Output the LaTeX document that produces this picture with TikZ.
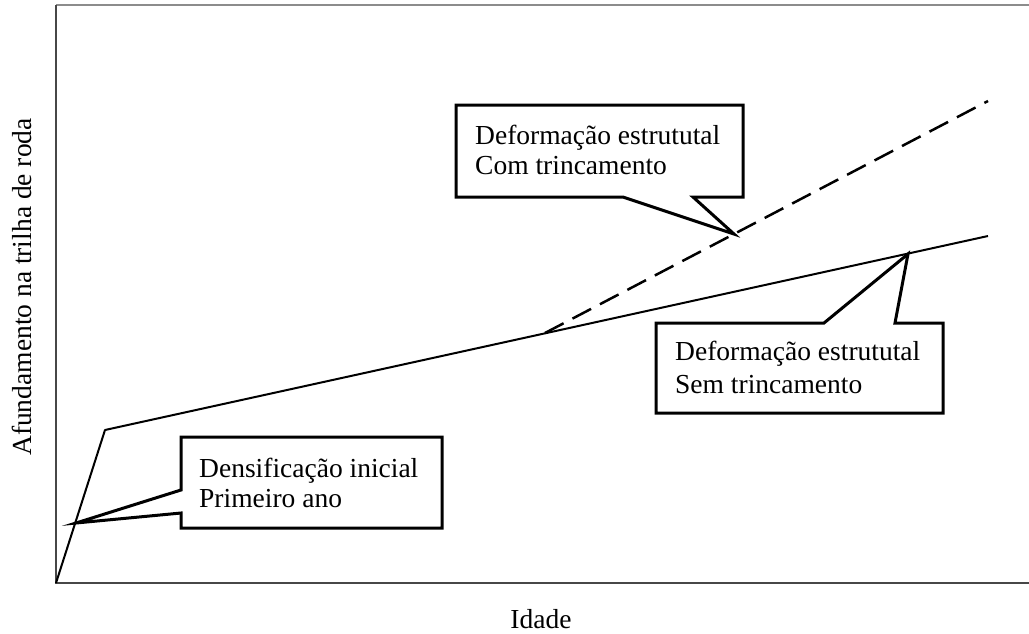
\documentclass[tikz,border=0pt]{standalone}
\usepackage{fontspec}
\setmainfont{Liberation Serif}
\begin{document}
\begin{tikzpicture}[x=1pt,y=-1pt,
  lbl/.style={font=\fontsize{27.5}{30}\selectfont, inner sep=0pt, anchor=base west},
  callout/.style={draw=black, line width=3pt, fill=white, line join=miter},
  axisline/.style={draw=black!72, line width=2.6pt},
  topline/.style={draw=black!45, line width=1.8pt},
  curve/.style={draw=black, line width=2pt, line join=round},
  dashcurve/.style={draw=black, line width=2.5pt, dash pattern=on 21pt off 10pt}]
\useasboundingbox (0,0) rectangle (1029,633);
\fill[white] (0,0) rectangle (1029,633);
% frame
\coordinate (O) at (56,583);
\coordinate (TL) at (56,5);
\coordinate (TR) at (1029,5);
\coordinate (BR) at (1029,583);
\draw[topline] (TL) -- (TR);
\draw[axisline] (TL) -- (O) -- (BR);
% curves
\coordinate (K1) at (105,430);
\coordinate (J) at (545,333);
\coordinate (E1) at (988,236);
\coordinate (E2) at (988,101);
\draw[dashcurve] (J) -- (E2);
\draw[curve] (O) -- (K1) -- (E1);
% callout tips
\coordinate (t1) at (76,523);
\coordinate (t2) at (734,234);
\coordinate (t3) at (908,254);
% callout 1
\draw[callout] (181,437) -- (181,490) -- (t1) -- (181,513) -- (181,528) -- (442,528) -- (442,437) -- cycle;
\node[lbl] (c1a) at (199,477) {Densificação inicial};
\node[lbl] (c1b) at (199,507) {Primeiro ano};
% callout 2
\draw[callout] (456,105) -- (743,105) -- (743,197) -- (693,197) -- (t2) -- (623,197) -- (456,197) -- cycle;
\node[lbl] (c2a) at (475,144) {Deformação estrututal};
\node[lbl] (c2b) at (475,174) {Com trincamento};
% callout 3
\draw[callout] (656,323) -- (824,323) -- (t3) -- (895,323) -- (943,323) -- (943,413) -- (656,413) -- cycle;
\node[lbl] (c3a) at (675,360) {Deformação estrututal};
\node[lbl] (c3b) at (675,393) {Sem trincamento};
% axis labels
\node[font=\fontsize{27.5}{30}\selectfont, inner sep=0pt, anchor=base] (xl) at (541,628) {Idade};
\node[font=\fontsize{27.5}{30}\selectfont, inner sep=0pt, anchor=base, rotate=90] (yl) at (31,287) {Afundamento na trilha de roda};
\end{tikzpicture}
\end{document}
